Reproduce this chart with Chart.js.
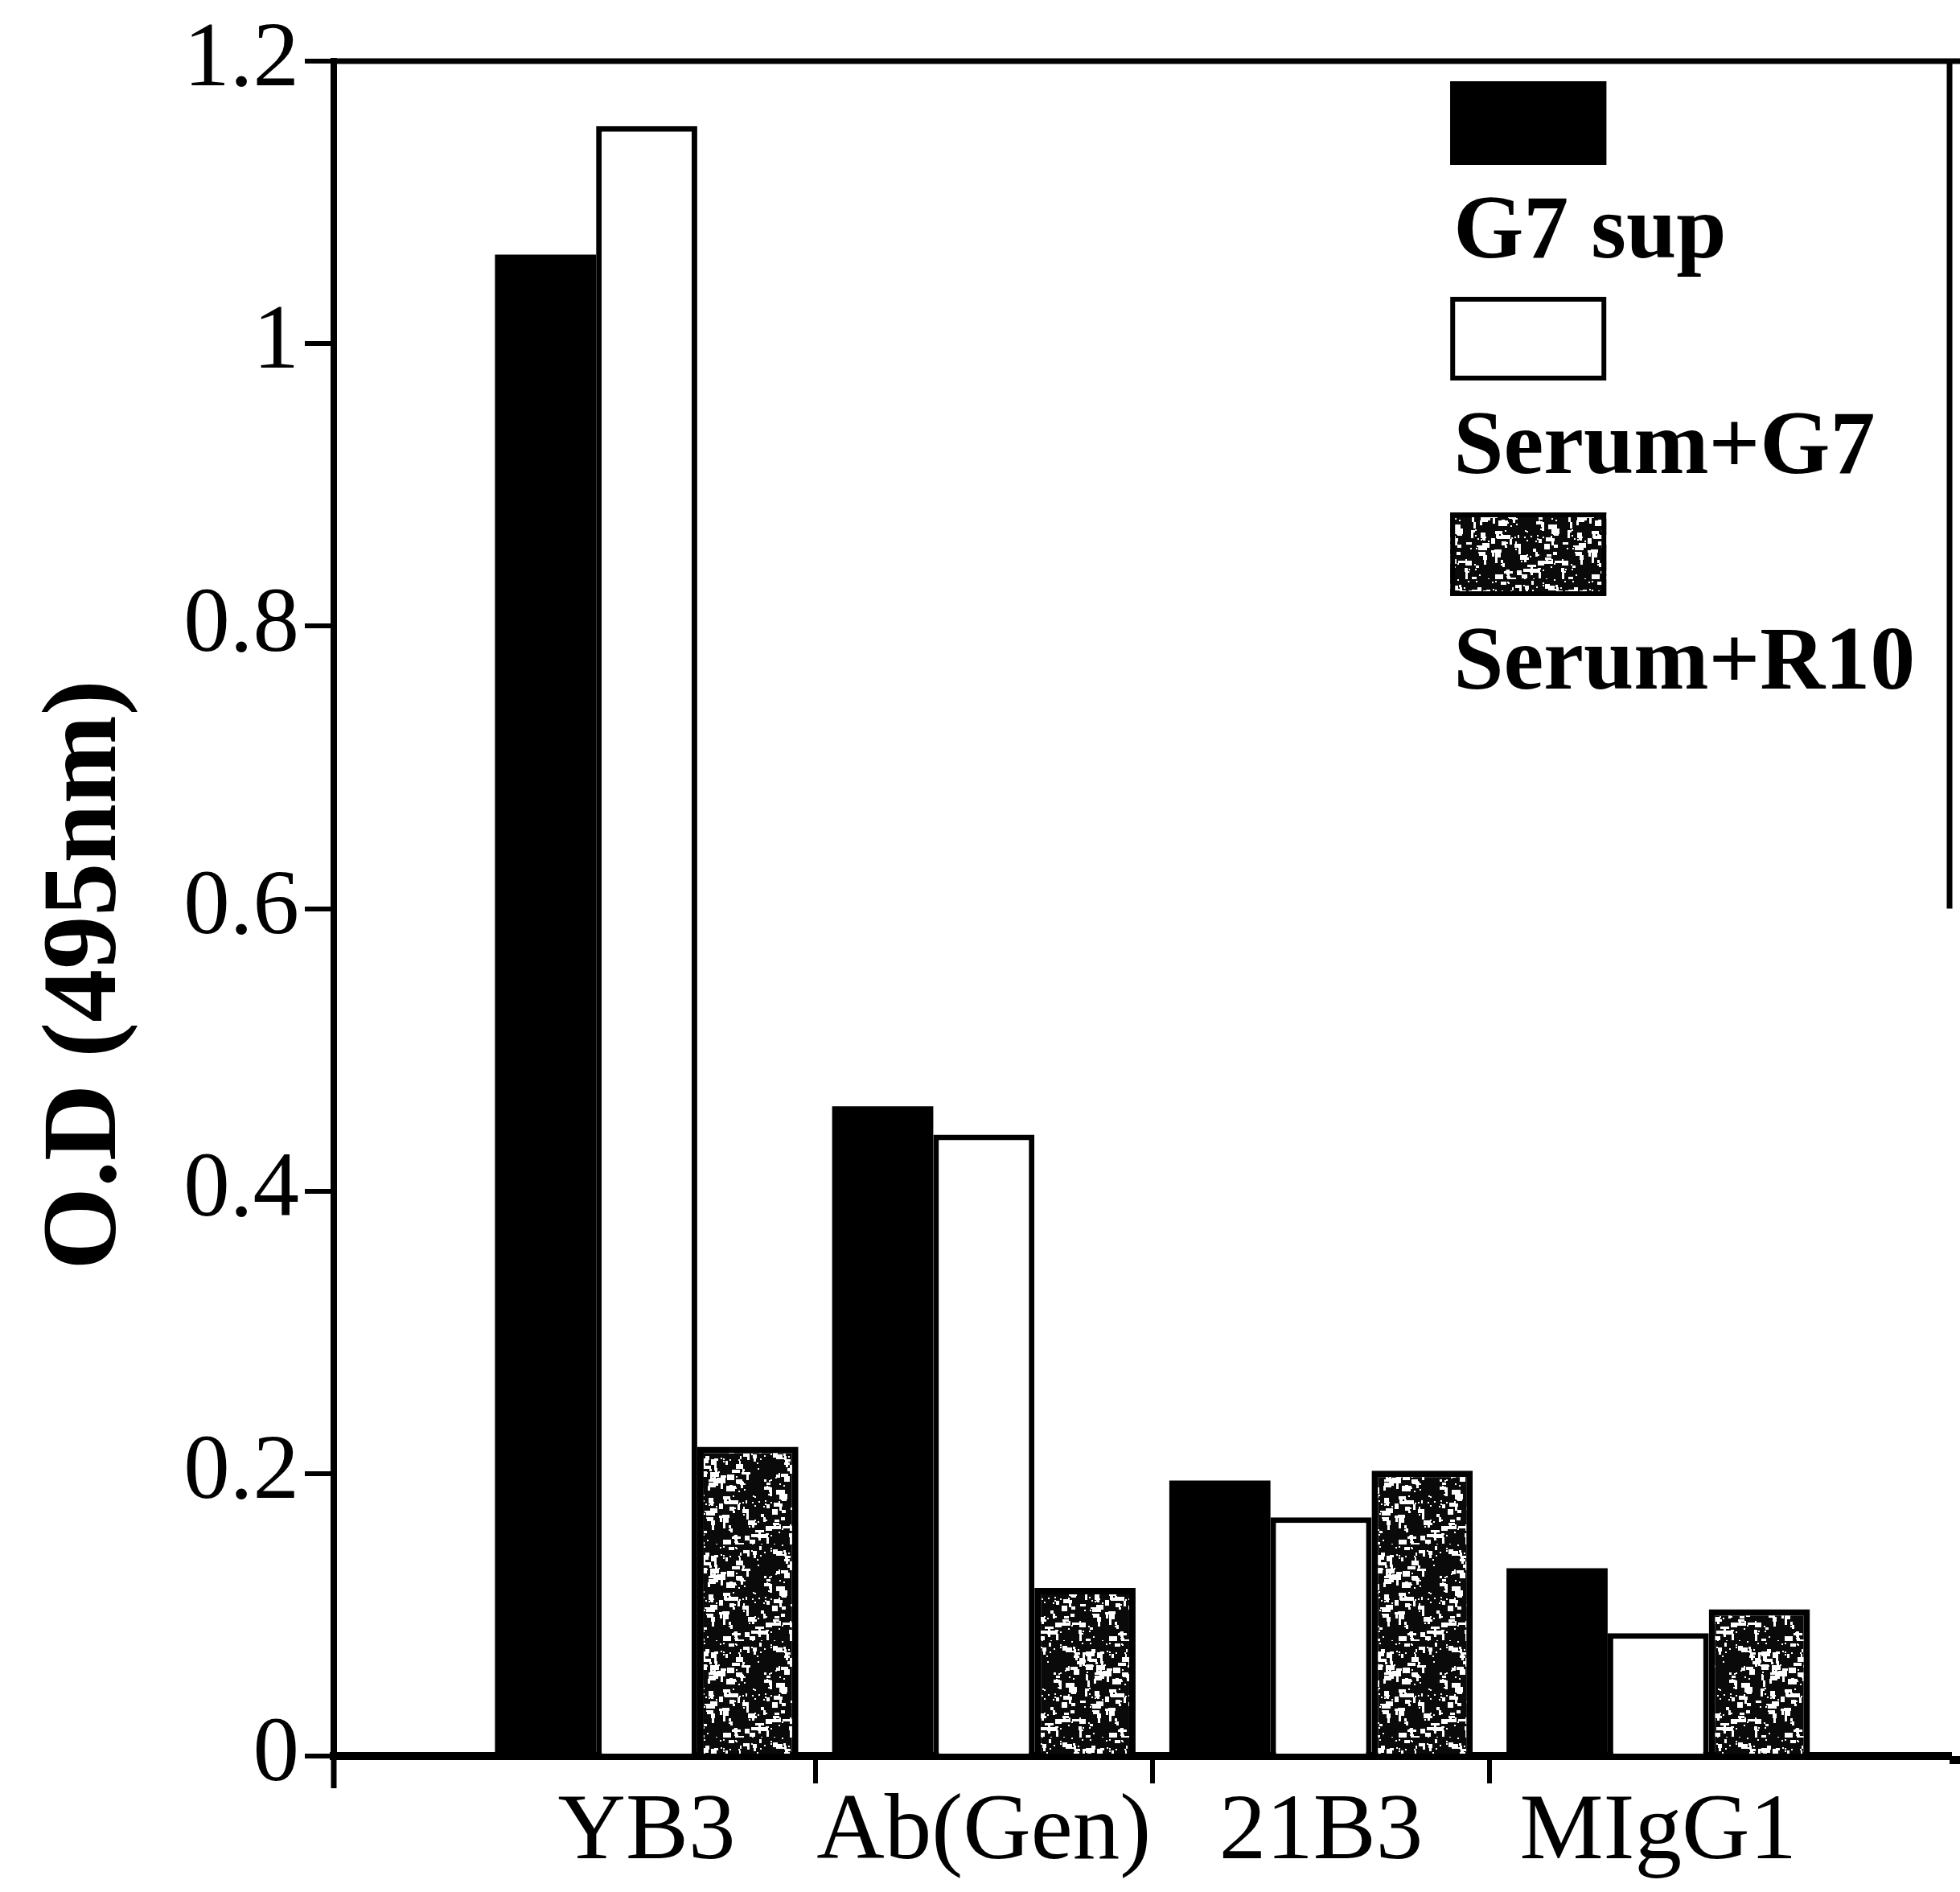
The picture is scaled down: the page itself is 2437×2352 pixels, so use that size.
<!DOCTYPE html>
<html lang="en">
<head>
<meta charset="UTF-8" />
<title>O.D (495nm)</title>
<script src="https://cdn.jsdelivr.net/npm/chart.js"></script>
<style>
  html, body { margin: 0; padding: 0; background: #fff; }
</style>
</head>
<body>
<canvas id="odChart" width="2437" height="2352"></canvas>
<script>
  // values
  const categories = ['YB3', 'Ab(Gen)', '21B3', 'MIgG1'];
  const seriesNames = ['G7 sup', 'Serum+G7', 'Serum+R10'];
  const g7Sup = [1.063, 0.460, 0.195, 0.133];
  const serumG7 = [1.154, 0.440, 0.169, 0.087];
  const serumR10 = [0.219, 0.119, 0.202, 0.104];
  const yTicks = [0, 0.2, 0.4, 0.6, 0.8, 1, 1.2];
  const yTickLabels = ['0', '0.2', '0.4', '0.6', '0.8', '1', '1.2'];
  // trailing spaces push the rotated title a bit below the middle, as in the scan
  const yTitle = 'O.D (495nm)\u00a0\u00a0\u00a0\u00a0\u00a0';

  // empty room left/right of the bar groups, in category widths
  const padLeftCats = 0.428;
  const padRightCats = 0.364;
  // the right frame edge is only visible down to about this value
  const rightEdgeTo = 0.6;

  // dark stipple fill for the third series
  function speckle() {
    const n = 120;
    const c = document.createElement('canvas');
    c.width = n; c.height = n;
    const g = c.getContext('2d');
    g.fillStyle = '#0a0a0a';
    g.fillRect(0, 0, n, n);
    let s = 29;
    const next = () => (s = (s * 16807) % 2147483647) / 2147483647;
    g.fillStyle = '#fff';
    for (let i = 0; i < 100; i++) {
      const x = Math.floor(next() * n), y = Math.floor(next() * n);
      const w = 3 + Math.floor(next() * 9), h = 3 + Math.floor(next() * 5);
      g.fillRect(x, y, w, h);
      if (next() > 0.5) g.fillRect(x + Math.floor(next() * w), y + h, 3, 3 + Math.floor(next() * 6));
    }
    for (let i = 0; i < 120; i++) {
      g.fillRect(Math.floor(next() * n), Math.floor(next() * n), 2, 2);
    }
    return g.createPattern(c, 'repeat');
  }

  const frame = {
    id: 'frame',
    afterDatasetsDraw(chart) {
      const { ctx, chartArea: a } = chart;
      const yEnd = chart.scales.y.getPixelForValue(rightEdgeTo);
      ctx.save();
      ctx.strokeStyle = '#000';
      ctx.lineWidth = 7;
      ctx.beginPath();
      ctx.moveTo(a.left - 3, a.top);
      ctx.lineTo(chart.width, a.top);
      ctx.moveTo(a.right, a.top);
      ctx.lineTo(a.right, yEnd);
      ctx.moveTo(a.left, a.bottom);
      ctx.lineTo(a.left, a.bottom + 40);
      ctx.stroke();
      ctx.lineWidth = 10;
      ctx.beginPath();
      ctx.moveTo(a.right, a.bottom + 5);
      ctx.lineTo(chart.width, a.bottom + 5);
      ctx.stroke();
      ctx.restore();
    }
  };

  // legend: swatch above its label, stacked in the top right corner
  const boxLegend = {
    id: 'boxLegend',
    afterDraw(chart) {
      const { ctx, chartArea: a } = chart;
      const x = a.left + a.width * 0.691;
      ctx.save();
      chart.data.datasets.forEach((ds, i) => {
        const top = a.top + 25 + i * 268;
        ctx.fillStyle = ds.backgroundColor;
        ctx.fillRect(x, top, 194, 104);
        ctx.lineWidth = 6;
        ctx.strokeStyle = '#000';
        ctx.strokeRect(x + 3, top + 3, 188, 98);
        ctx.fillStyle = '#000';
        ctx.font = 'bold 112px "Liberation Serif"';
        ctx.textBaseline = 'middle';
        ctx.fillText(ds.label, x + 4, top + 190);
      });
      ctx.restore();
    }
  };

  const ctx = document.getElementById('odChart').getContext('2d');
  new Chart(ctx, {
    type: 'bar',
    data: {
      labels: categories,
      datasets: [
        { label: seriesNames[0], data: g7Sup, backgroundColor: '#000', borderColor: '#000', borderWidth: 0 },
        { label: seriesNames[1], data: serumG7, backgroundColor: '#fff', borderColor: '#000', borderWidth: 7 },
        { label: seriesNames[2], data: serumR10, backgroundColor: speckle(), borderColor: '#000', borderWidth: 8 }
      ]
    },
    options: {
      responsive: false,
      animation: false,
      devicePixelRatio: 1,
      categoryPercentage: 0.9,
      barPercentage: 1.0,
      layout: { padding: { left: 0, right: 13, top: 73, bottom: 0 } },
      plugins: { legend: { display: false }, tooltip: { enabled: false } },
      scales: {
        x: {
          offset: true,
          afterBuildTicks(scale) {
            scale._startValue = -0.5 - padLeftCats;
            scale._valueRange = categories.length + padLeftCats + padRightCats;
          },
          afterFit(scale) { scale.height = 169; },
          border: { color: '#000', width: 10 },
          grid: {
            offset: true,
            drawOnChartArea: false,
            tickLength: 34,
            lineWidth: 6,
            color: (c) => (c.index >= 1 && c.index < categories.length) ? '#000' : 'rgba(0,0,0,0)'
          },
          ticks: {
            color: '#000',
            padding: 4,
            maxRotation: 0,
            font: { family: 'Liberation Serif', size: 117, lineHeight: 1.0 }
          }
        },
        y: {
          min: 0,
          max: 1.2,
          afterBuildTicks(scale) { scale.ticks = yTicks.map(v => ({ value: v })); },
          afterFit(scale) { scale.width = 415; },
          border: { color: '#000', width: 8 },
          grid: { drawOnChartArea: false, tickLength: 36, lineWidth: 6, color: '#000' },
          ticks: {
            color: '#000',
            padding: 7,
            font: { family: 'Liberation Serif', size: 115 },
            callback: (v) => yTickLabels[yTicks.indexOf(v)]
          },
          title: {
            display: true,
            text: yTitle,
            color: '#000',
            padding: { top: 30, bottom: 0 },
            font: { family: 'Liberation Serif', weight: 'bold', size: 132, lineHeight: 1.2 }
          }
        }
      }
    },
    plugins: [frame, boxLegend]
  });
</script>
</body>
</html>
